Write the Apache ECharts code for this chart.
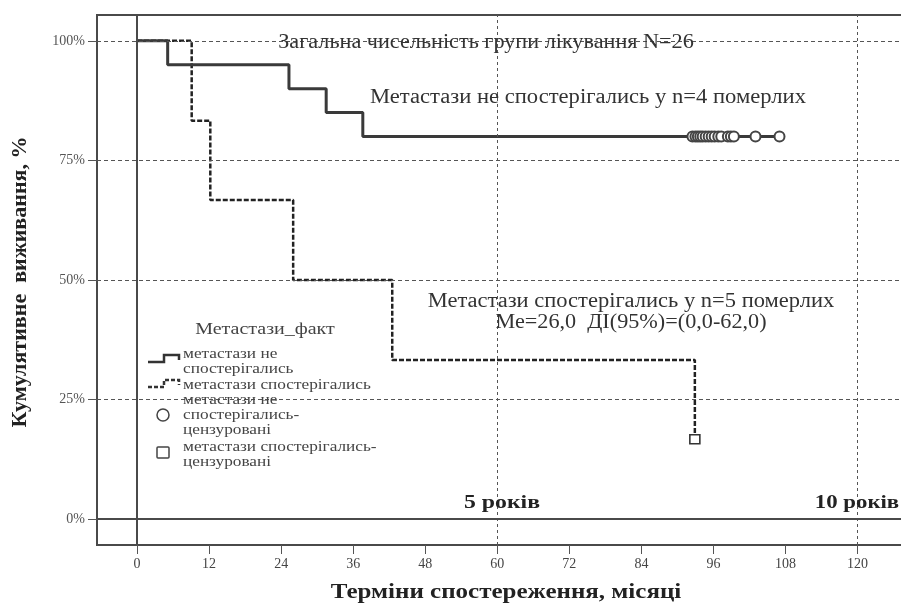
<!DOCTYPE html>
<html><head><meta charset="utf-8">
<script src="https://cdn.jsdelivr.net/npm/echarts@6/dist/echarts.min.js"></script>
<style>html,body{margin:0;padding:0;background:#fff}#c{width:901px;height:604px}</style>
</head><body><div id="c"></div>
<script>
// --- data ---
const xTicks = [0, 12, 24, 36, 48, 60, 72, 84, 96, 108, 120];
const yTicks = [0, 25, 50, 75, 100];
// group without metastases (n=20, 4 deaths)
const noMetTime = [0, 5.1, 25.3, 31.5, 37.6, 107];
const noMetSurv = [100, 95, 90, 85, 80, 80];
const noMetCensored = [92.5, 93, 93.4, 93.8, 94.2, 94.7, 95.2, 95.7, 96.2, 96.8, 97.3, 98.4, 98.9, 99.4, 103, 107];
const noMetCensoredSurv = 80;
// group with metastases (n=6, 5 deaths)
const metTime = [0, 9.1, 12.2, 26, 42.5, 92.9];
const metSurv = [100, 83.3, 66.7, 50, 33.3, 16.7];
const metCensored = [92.9];
const metCensoredSurv = [16.7];
const yearLines = [60, 120];

const serif = '"Liberation Serif","DejaVu Serif",serif';
const chart = echarts.init(document.getElementById('c'));
const lineGray = '#3a3a3a';

function txt(x, y, text, font, opts) {
  return Object.assign({type: 'text', x: x, y: y, z: 10,
    style: Object.assign({text: text, font: font, fill: '#333', align: 'center', verticalAlign: 'middle'}, (opts && opts.style) || {})},
    opts && opts.el || {});
}

chart.setOption({
  animation: false,
  backgroundColor: '#fff',
  grid: {left: 97, top: 15, width: 808, height: 530, outerBoundsMode: 'none', containLabel: false,
    show: true, borderColor: '#4a4a4a', borderWidth: 2, backgroundColor: '#fff'},
  xAxis: {
    type: 'value', min: -6.67, max: 127.9,
    axisLine: {show: true, onZero: false, lineStyle: {color: '#4a4a4a', width: 2}},
    axisTick: {show: true, customValues: xTicks, length: 9, lineStyle: {color: '#555', width: 1}},
    axisLabel: {customValues: xTicks, color: '#444', fontFamily: serif, fontSize: 14, margin: 12},
    splitLine: {show: false}
  },
  yAxis: {
    type: 'value', min: -5.4, max: 105.4,
    axisLine: {show: true, onZero: false, lineStyle: {color: '#4a4a4a', width: 2}},
    axisTick: {show: true, customValues: yTicks, length: 9, lineStyle: {color: '#555', width: 1}},
    axisLabel: {customValues: yTicks, color: '#555', fontFamily: serif, fontSize: 14, margin: 12, formatter: v => v + '%'},
    splitLine: {show: false}
  },
  series: [
    {
      type: 'line', data: [], silent: true,
      markLine: {
        silent: true, symbol: 'none', label: {show: false},
        data: [
          ...yTicks.map(v => ({yAxis: v, lineStyle: {type: [4, 3], color: '#555', width: 1}})),
          ...yearLines.map(v => ({xAxis: v, lineStyle: {type: [3, 3], color: '#555', width: 1}})),
          {xAxis: 0, lineStyle: {type: 'solid', color: '#4a4a4a', width: 2}},
          {yAxis: 0, lineStyle: {type: 'solid', color: '#4a4a4a', width: 2}}
        ]
      }
    },
    {
      name: 'метастази спостерігались', type: 'line', step: 'end', showSymbol: false, z: 3,
      data: metTime.map((t, i) => [t, metSurv[i]]),
      lineStyle: {color: '#222', width: 2.5, type: [5, 2]}
    },
    {
      name: 'метастази не спостерігались', type: 'line', step: 'end', showSymbol: false, z: 4,
      data: noMetTime.map((t, i) => [t, noMetSurv[i]]),
      lineStyle: {color: lineGray, width: 3}
    },
    {
      type: 'scatter', z: 5, symbol: 'circle', symbolSize: 10,
      data: noMetCensored.map(t => [t, noMetCensoredSurv]),
      itemStyle: {color: '#fff', borderColor: '#444', borderWidth: 2, opacity: 1}
    },
    {
      type: 'scatter', z: 5, symbol: 'rect', symbolSize: [10, 9],
      data: metCensored.map((t, i) => [t, metCensoredSurv[i]]),
      itemStyle: {color: '#fff', borderColor: '#333', borderWidth: 1.5, opacity: 1}
    }
  ],
  graphic: [
    txt(486, 43, 'Загальна чисельність групи лікування N=26', '20px ' + serif, {el: {scaleX: 1.11}}),
    txt(588, 98, 'Метастази не спостерігались у n=4 померлих', '20px ' + serif, {el: {scaleX: 1.13}}),
    txt(631, 302, 'Метастази спостерігались у n=5 померлих', '20px ' + serif, {el: {scaleX: 1.125}}),
    txt(631, 323, 'Ме=26,0  ДІ(95%)=(0,0-62,0)', '20px ' + serif, {el: {scaleX: 1.11}}),
    txt(502, 503, '5 років', 'bold 19px ' + serif, {el: {scaleX: 1.25}, style: {fill: '#222'}}),
    txt(857, 503, '10 років', 'bold 19px ' + serif, {el: {scaleX: 1.2}, style: {fill: '#222'}}),
    txt(506, 593, 'Терміни спостереження, місяці', 'bold 20px ' + serif, {el: {scaleX: 1.25}, style: {fill: '#222'}}),
    txt(21, 282, 'Кумулятивне  виживання, %', 'bold 20px ' + serif, {el: {scaleX: 1.1, rotation: Math.PI / 2}, style: {fill: '#222'}}),
    // legend
    txt(265, 330, 'Метастази_факт', '16px ' + serif, {el: {scaleX: 1.25}, style: {fill: '#444'}}),
    {type: 'polyline', z: 10, shape: {points: [[148, 362], [164, 362], [164, 355], [179, 355], [179, 360]]}, style: {stroke: '#333', lineWidth: 2.5, fill: null}},
    txt(183, 362, 'метастази не\nспостерігались', '15px ' + serif, {el: {scaleX: 1.15}, style: {fill: '#444', align: 'left', lineHeight: 15}}),
    {type: 'polyline', z: 10, shape: {points: [[148, 387], [164, 387], [164, 380], [179, 380], [179, 385]]}, style: {stroke: '#333', lineWidth: 2.5, fill: null, lineDash: [4, 2]}},
    txt(183, 385, 'метастази спостерігались', '15px ' + serif, {el: {scaleX: 1.15}, style: {fill: '#444', align: 'left'}}),
    {type: 'circle', z: 10, shape: {cx: 163, cy: 415, r: 6}, style: {stroke: '#444', lineWidth: 1.5, fill: '#fff'}},
    txt(183, 415, 'метастази не\nспостерігались-\nцензуровані', '15px ' + serif, {el: {scaleX: 1.15}, style: {fill: '#444', align: 'left', lineHeight: 15}}),
    {type: 'rect', z: 10, shape: {x: 157, y: 447, width: 12, height: 11, r: 1}, style: {stroke: '#444', lineWidth: 1.5, fill: '#fff'}},
    txt(183, 455, 'метастази спостерігались-\nцензуровані', '15px ' + serif, {el: {scaleX: 1.15}, style: {fill: '#444', align: 'left', lineHeight: 15}})
  ]
});
</script></body></html>
